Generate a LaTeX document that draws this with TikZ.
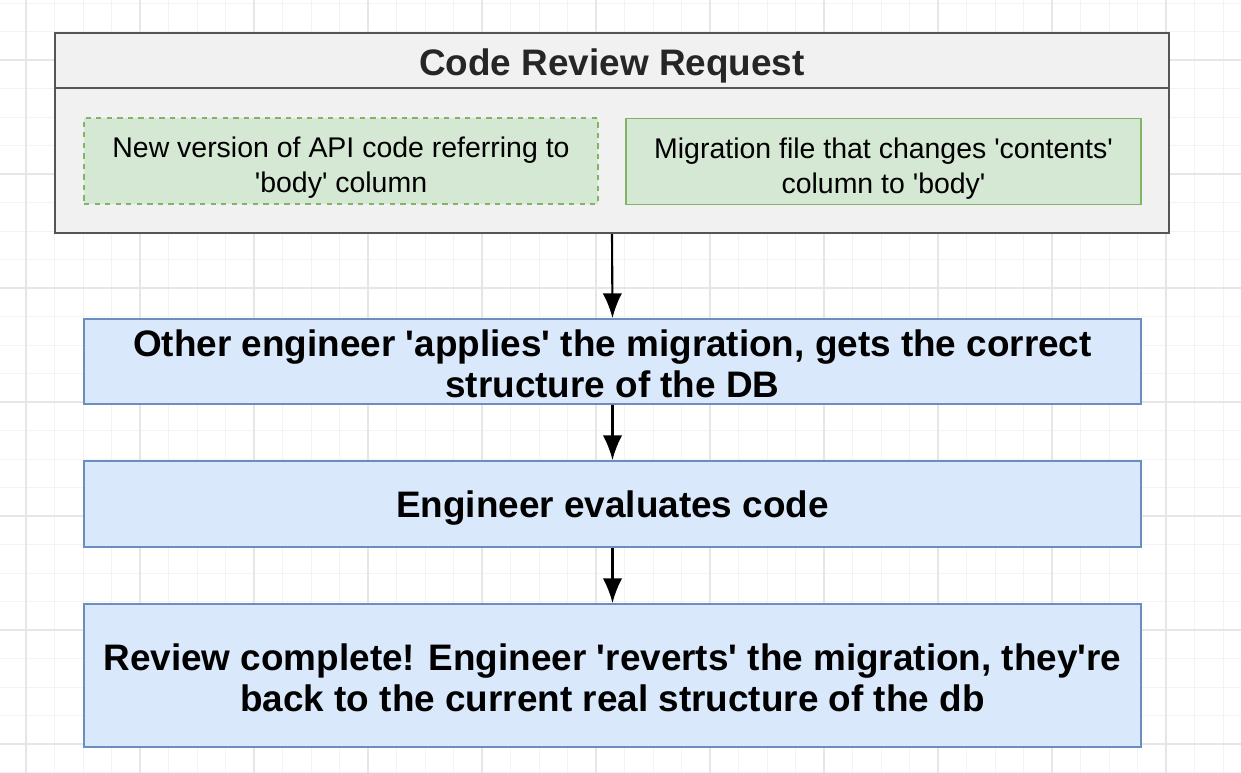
\documentclass[tikz,border=0pt]{standalone}
\usepackage{fontspec}
\setmainfont{Liberation Sans}
\usepackage{xcolor}
\usepackage{tikz}
\usetikzlibrary{arrows.meta}
\definecolor{gridminor}{HTML}{F3F3F3}
\definecolor{gridmajor}{HTML}{E6E6E6}
\definecolor{reqfill}{HTML}{F1F1F1}
\definecolor{reqline}{HTML}{555555}
\definecolor{greenfill}{HTML}{D5E8D4}
\definecolor{greenline}{HTML}{82B366}
\definecolor{bluefill}{HTML}{DAE8FC}
\definecolor{blueline}{HTML}{6C8EBF}
\newcommand{\sq}{\textquotesingle}

\begin{document}
\begin{tikzpicture}[x=0.02cm,y=-0.02cm,
	request/.style={draw=reqline,fill=reqfill,line width=1.4pt,minimum width=22.28cm,minimum height=4cm,inner sep=0pt},
	reqtitle/.style={text=black!85,anchor=base,font=\fontsize{21}{24}\selectfont\bfseries},
	change/.style={draw=greenline,fill=greenfill,line width=1pt,align=center,inner sep=0pt,minimum height=1.72cm,text height=36.1pt,text depth=0pt,font=\fontsize{16.2}{19.8}\selectfont},
	stage/.style={draw=blueline,fill=bluefill,line width=1.1pt,align=center,inner sep=0pt,minimum width=21.14cm,text depth=0pt,font=\fontsize{21}{23.7}\selectfont\bfseries},
	flow/.style={-{Latex[length=14pt,width=11pt]},line width=1.2pt}]
	\useasboundingbox (0,0) rectangle (1241,773);
	\fill[white] (0,0) rectangle (1241,773);
	\foreach \i in {0,...,44} \draw[gridminor,line width=0.5pt] (-2.5+28.5*\i,0) -- (-2.5+28.5*\i,773);
	\foreach \i in {0,...,27} \draw[gridminor,line width=0.5pt] (0,3+28.5*\i) -- (1241,3+28.5*\i);
	\foreach \i in {0,...,11} \draw[gridmajor,line width=0.6pt] (26+114*\i,0) -- (26+114*\i,773);
	\foreach \i in {0,...,6} \draw[gridmajor,line width=0.6pt] (0,60+114*\i) -- (1241,60+114*\i);
	\node[request] (crr) at (612,133) {};
	\path (crr.north west) ++(0,56) coordinate (hdl);
	\draw[reqline,line width=1.4pt] (hdl) -- (hdl -| crr.east);
	\node[reqtitle] (title) at (612,76) {Code Review Request};
	\node[change,dashed,minimum width=10.28cm] (apicode) at (341,161) {New version of API code referring to\\\sq body\sq{} column};
	\node[change,minimum width=10.3cm] (migfile) at (883.5,161.5) {Migration file that changes \sq contents\sq\\column to \sq body\sq};
	\node[stage,minimum height=1.7cm,text height=41.3pt] (apply) at (612.5,361.5) {Other engineer \sq applies\sq{} the migration, gets the correct\\structure of the DB};
	\node[stage,minimum height=1.72cm,text height=15.5pt] (evaluate) at (612.5,504) {Engineer evaluates code};
	\node[stage,minimum height=2.86cm,text height=41.2pt] (revert) at (612.5,675.5) {Review complete! Engineer \sq reverts\sq{} the migration, they\sq re\\back to the current real structure of the db};
	\draw[flow] (crr.south) -- (apply.north);
	\draw[flow] (apply.south) -- (evaluate.north);
	\draw[flow] (evaluate.south) -- (revert.north);
\end{tikzpicture}
\end{document}
